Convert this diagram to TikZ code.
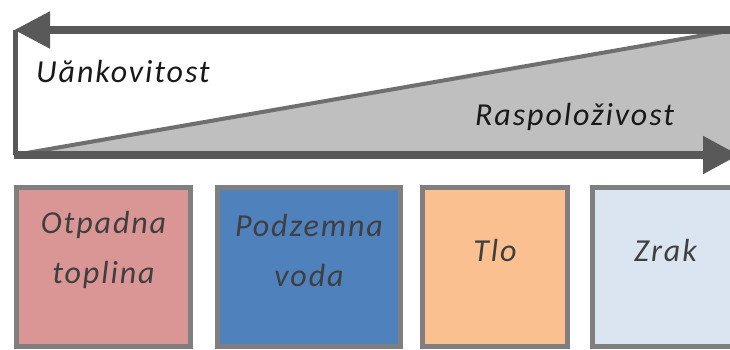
\documentclass[tikz,border=0pt]{standalone}
\usepackage{fontspec}
\setmainfont[LetterSpace=6]{Carlito}
\usetikzlibrary{arrows.meta}
\definecolor{axisgray}{HTML}{595959}
\definecolor{wedgegray}{HTML}{BFBFBF}
\definecolor{wedgeline}{HTML}{6F6F6F}
\definecolor{boxline}{HTML}{7F7F7F}
\definecolor{heatred}{HTML}{D99694}
\definecolor{waterblue}{HTML}{4F81BD}
\definecolor{soilorange}{HTML}{FAC08F}
\definecolor{airblue}{HTML}{DBE5F1}
\definecolor{labelgray}{HTML}{3F3F3F}
\tikzset{
  axis/.style={draw=axisgray, line width=8pt},
  source/.style={draw=boxline, line width=5pt, rectangle, anchor=north west},
  sourcetext/.style={text=labelgray, align=center,
    font=\fontsize{32}{50}\selectfont\itshape},
  scaletext/.style={anchor=base west, text=black!90,
    font=\fontsize{32}{40}\selectfont\itshape}
}
\begin{document}
\begin{tikzpicture}[x=1pt, y=-1pt, every node/.style={inner sep=0pt}]
    \useasboundingbox (0,0) rectangle (730,349);
    % wedge
    \coordinate (origin) at (15,155);
    \coordinate (wedgetop) at (745,28);
    \coordinate (wedgeend) at (745,155);
    \filldraw[fill=wedgegray, draw=wedgeline, line width=4pt]
    (origin) -- (wedgetop) -- (wedgeend) -- cycle;
    % axes
    \coordinate (topleft) at (14,30);
    \coordinate (topright) at (760,30);
    \coordinate (bottomleft) at (14,155);
    \coordinate (bottomright) at (739,155);
    \draw[axis, -{Triangle[length=36pt, width=35pt]}] (topright) -- (topleft);
    \draw[axis, -{Triangle[length=36pt, width=36pt]}] (bottomleft) -- (bottomright);
    \draw[draw=axisgray, line width=5pt] ([xshift=1.5pt]topleft) -- ([xshift=1.5pt]bottomleft);
    % labels
    \node[scaletext] (ucinkovitost) at (36,82) {Uănkovitost};
    \node[scaletext] (raspolozivost) at (475,125) {Raspoloživost};
    % sources
    \foreach \name/\x/\w/\c in {heat/14/174/heatred, water/215/183/waterblue,
      soil/420/145/soilorange, air/590/170/airblue}
    \node[source, fill=\c, minimum width=\w pt, minimum height=159pt]
    (\name) at (\x,185) {};
    \node[sourcetext] (heattext) at ([yshift=-65pt]heat.north) {Otpadna\\toplina};
    \node[sourcetext] (watertext) at ([yshift=-65pt]water.north) {Podzemna\\voda};
    \node[sourcetext] (soiltext) at ([yshift=-65pt]soil.north) {Tlo};
    \node[sourcetext] (airtext) at ([xshift=-12pt, yshift=-65pt]air.north) {Zrak};
\end{tikzpicture}
\end{document}
